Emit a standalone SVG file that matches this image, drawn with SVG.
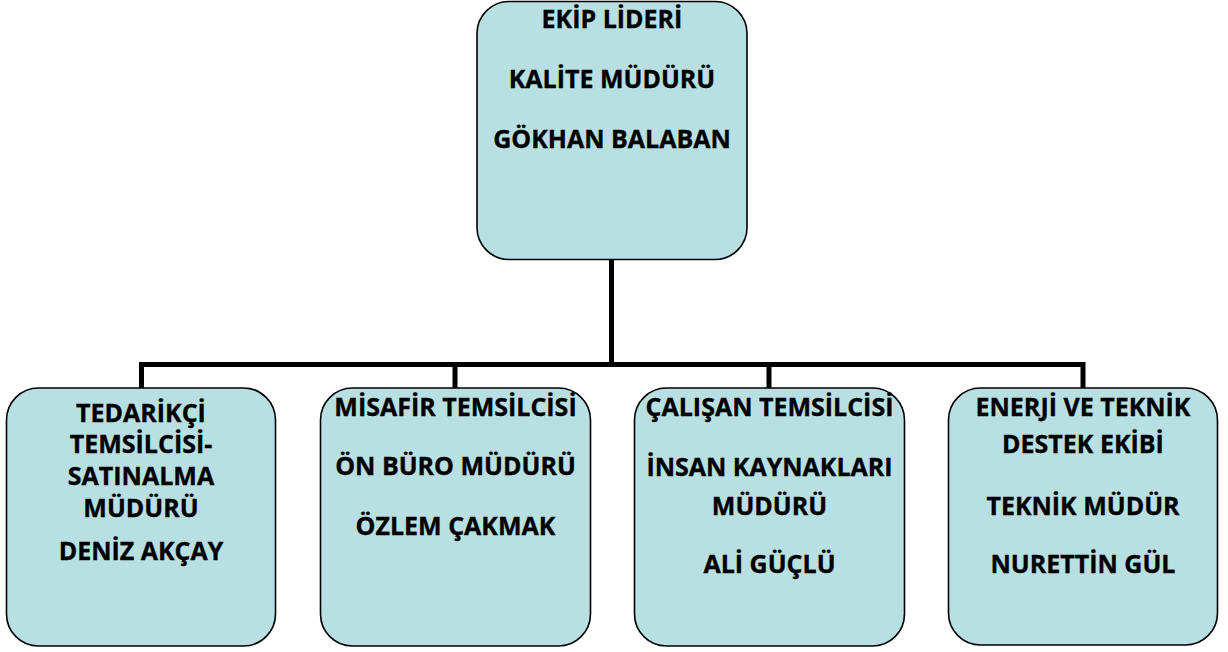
<svg xmlns="http://www.w3.org/2000/svg" width="1228" height="652" viewBox="0 0 1228 652">
<style>
.box{fill:#b8dfe2;stroke:#000;stroke-width:1.6}
.t{font-family:"Open Sans","Liberation Sans",sans-serif;font-weight:bold;font-size:25px;fill:#000;stroke:#000;stroke-width:0.35;text-anchor:middle}
.conn{fill:none;stroke:#000;stroke-width:5}
</style>
<rect width="1228" height="652" fill="#fff"/>
<g id="connectors">
<path class="conn" d="M611.5 260 V364.5"/>
<path class="conn" d="M141.5 388 V364.5 H1083 V388"/>
<path class="conn" d="M455 364.5 V388"/>
<path class="conn" d="M769 364.5 V388"/>
</g>
<g id="lider">
<rect class="box" x="477" y="1.5" width="270" height="258" rx="32"/>
<text class="t" x="612" y="28">EKİP LİDERİ</text>
<text class="t" x="612" y="88">KALİTE MÜDÜRÜ</text>
<text class="t" x="612" y="148">GÖKHAN BALABAN</text>
</g>
<g id="tedarikci">
<rect class="box" x="6.5" y="388" width="269" height="258" rx="32"/>
<text class="t" x="141" y="422">TEDARİKÇİ</text>
<text class="t" x="141" y="453">TEMSİLCİSİ-</text>
<text class="t" x="141" y="485">SATINALMA</text>
<text class="t" x="141" y="517">MÜDÜRÜ</text>
<text class="t" x="141" y="560">DENİZ AKÇAY</text>
</g>
<g id="misafir">
<rect class="box" x="320.5" y="388" width="270" height="258" rx="32"/>
<text class="t" x="455.5" y="416">MİSAFİR TEMSİLCİSİ</text>
<text class="t" x="455.5" y="475">ÖN BÜRO MÜDÜRÜ</text>
<text class="t" x="455.5" y="535">ÖZLEM ÇAKMAK</text>
</g>
<g id="calisan">
<rect class="box" x="634.5" y="388" width="270" height="258" rx="32"/>
<text class="t" x="769.5" y="416">ÇALIŞAN TEMSİLCİSİ</text>
<text class="t" x="769.5" y="476">İNSAN KAYNAKLARI</text>
<text class="t" x="769.5" y="515">MÜDÜRÜ</text>
<text class="t" x="769.5" y="573">ALİ GÜÇLÜ</text>
</g>
<g id="enerji">
<rect class="box" x="948.5" y="388" width="269" height="257" rx="32"/>
<text class="t" x="1083" y="416">ENERJİ VE TEKNİK</text>
<text class="t" x="1083" y="453">DESTEK EKİBİ</text>
<text class="t" x="1083" y="515">TEKNİK MÜDÜR</text>
<text class="t" x="1083" y="573">NURETTİN GÜL</text>
</g>
</svg>
